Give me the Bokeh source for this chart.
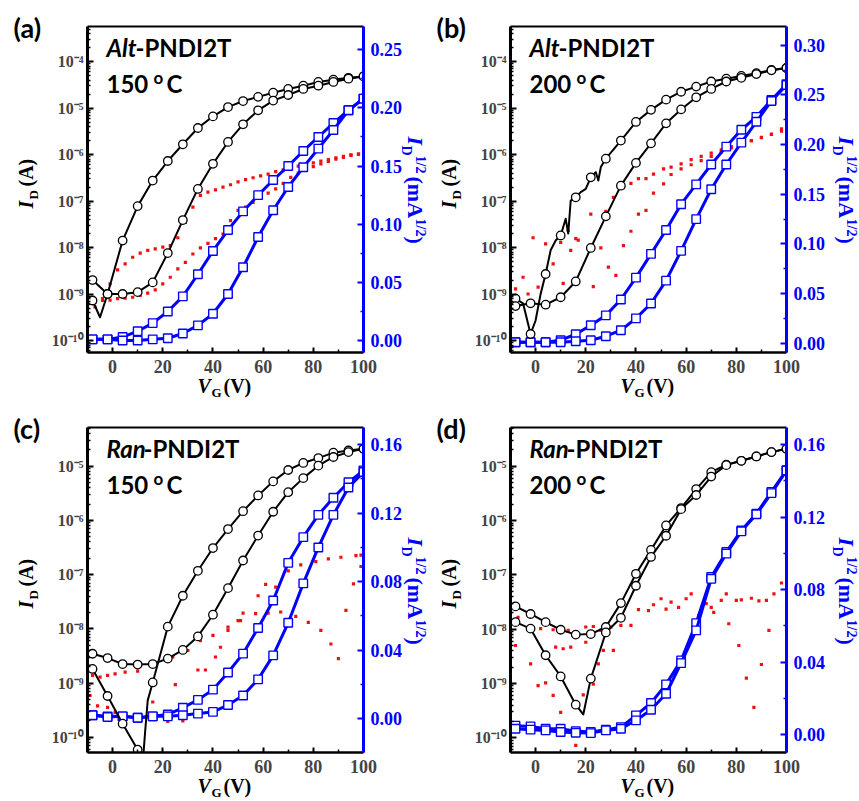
import numpy as np
from bokeh.plotting import figure
from bokeh.core.properties import value
from bokeh.models import (Range1d, LinearAxis, FixedTicker, CustomJSTickFormatter,
                          NumeralTickFormatter, ColumnDataSource, CDSView,
                          IndexFilter, LinearScale)
from bokeh.layouts import column, row
from bokeh.embed import file_html
from bokeh.resources import INLINE

# ------------------------------------------------------------------ data
MARK_VG = [-8, -2, 4, 10, 16, 22, 28, 34, 40, 46, 52, 58, 64, 70, 76, 82, 88, 94, 100]
SQ_VG = [-10, -8, -2, 4, 10, 16, 22, 28, 34, 40, 46, 52, 58, 64, 70, 76, 82, 88, 94, 100]
RED_VG3 = [-10, -7, -4, -1, 2, 5, 8, 11, 14, 17, 20, 23, 26, 29, 32, 35, 38, 41, 44, 47,
           50, 53, 56, 59, 62, 65, 68, 71, 74, 77, 80, 83, 86, 89, 92, 95, 98]

# ---- (a) Alt-PNDI2T 150 C   (log10 of I_D in A)
a_id1_vg = [-10, -8, -2, 4, 10, 16, 22, 28, 34, 40, 46, 52, 58, 64, 70, 76, 82, 88, 94, 100]
a_id1_log = [-8.68, -8.70, -9.00, -7.85, -7.11, -6.56, -6.14, -5.78, -5.43, -5.18, -4.98,
             -4.85, -4.76, -4.67, -4.59, -4.52, -4.44, -4.39, -4.35, -4.32]
a_id2_vg = [-10, -8, -5, -2, 4, 10, 16, 22, 28, 34, 40, 46, 52, 58, 64, 70, 76, 82, 88, 94, 100]
a_id2_log = [-9.18, -9.14, -9.50, -9.00, -9.00, -8.96, -8.75, -8.12, -7.41, -6.74, -6.20,
             -5.73, -5.35, -5.05, -4.84, -4.72, -4.59, -4.52, -4.44, -4.37, -4.32]
a_sq1 = [0.001, 0.001, 0.001, 0.003, 0.008, 0.015, 0.025, 0.038, 0.057, 0.077, 0.095,
         0.111, 0.125, 0.138, 0.150, 0.163, 0.175, 0.187, 0.198, 0.208]
a_sq2 = [0.001, 0.001, 0.001, 0.000, 0.000, 0.001, 0.002, 0.006, 0.013, 0.023, 0.040,
         0.063, 0.089, 0.112, 0.132, 0.149, 0.165, 0.181, 0.198, 0.208]
a_red1_vg = RED_VG3
a_red1_log = [-9.43, -9.28, -9.10, -8.78, -8.48, -8.35, -8.21, -8.12, -8.06, -8.03, -7.99,
              -7.96, -7.79, -7.46, -7.13, -6.88, -6.81, -6.76, -6.70, -6.65, -6.59, -6.54,
              -6.50, -6.46, -6.42, -6.37, -6.33, -6.29, -6.25, -6.22, -6.18, -6.14, -6.11,
              -6.07, -6.04, -6.01, -5.99]
a_red2_vg = RED_VG3
a_red2_log = [-9.35, -9.18, -9.14, -9.13, -9.10, -9.09, -9.07, -9.03, -8.98, -8.91, -8.78,
              -8.64, -8.46, -8.32, -8.14, -8.01, -7.91, -7.81, -7.71, -7.42, -7.20, -7.13,
              -7.03, -6.92, -6.83, -6.74, -6.62, -6.49, -6.40, -6.33, -6.26, -6.20, -6.15,
              -6.10, -6.06, -6.02, -5.99]

# ---- (b) Alt-PNDI2T 200 C
b_id1_vg = [-10, -8, -5, -2, 0, 2, 4, 6, 8, 10, 12, 13, 14, 16, 18, 20, 22, 24, 25, 26, 28,
            34, 40, 46, 52, 58, 64, 70, 76, 82, 88, 94, 100]
b_id1_log = [-9.10, -9.10, -9.20, -9.86, -9.57, -9.00, -8.57, -8.06, -7.85, -7.74, -7.38,
             -7.70, -6.99, -6.92, -6.81, -6.74, -6.49, -6.38, -6.56, -6.27, -6.09, -5.70,
             -5.30, -5.04, -4.82, -4.65, -4.54, -4.43, -4.37, -4.31, -4.25, -4.18, -4.14]
b_id2_vg = [-10, -8, -2, 4, 10, 16, 22, 28, 34, 40, 46, 52, 58, 64, 70, 76, 82, 88, 94, 100]
b_id2_log = [-9.30, -9.26, -9.20, -9.23, -9.07, -8.73, -8.01, -7.33, -6.67, -6.18, -5.76,
             -5.33, -5.03, -4.77, -4.59, -4.43, -4.35, -4.27, -4.19, -4.14]
b_sq1 = [0.001, 0.001, 0.001, 0.001, 0.003, 0.009, 0.018, 0.028, 0.044, 0.066, 0.090,
         0.114, 0.140, 0.160, 0.180, 0.198, 0.215, 0.228, 0.245, 0.261]
b_sq2 = [0.001, 0.001, 0.001, 0.001, 0.001, 0.002, 0.003, 0.007, 0.013, 0.025, 0.040,
         0.063, 0.093, 0.125, 0.155, 0.180, 0.202, 0.223, 0.244, 0.260]
b_red1_vg = [-8, -5, -1, 4, 10, 13, 17, 22, 28, 31, 35, 38, 41, 44, 47, 51, 54, 58, 62, 66,
             70, 74, 78, 82, 86, 90, 94, 98]
b_red1_log = [-8.89, -8.64, -7.79, -7.92, -7.89, -7.63, -7.84, -7.28, -7.22, -6.92, -6.70,
              -6.62, -6.52, -6.52, -6.42, -6.31, -6.27, -6.20, -6.11, -6.04, -5.97, -5.90,
              -5.83, -5.77, -5.70, -5.64, -5.57, -5.50]
b_red2_vg = [-9, -3, 1, 7, 11, 14, 16, 23, 26, 29, 32, 35, 38, 41, 44, 47, 51, 54, 58, 62,
             66, 70, 74, 78, 82, 86, 90, 94, 98]
b_red2_log = [-9.07, -9.00, -8.85, -8.35, -8.77, -8.06, -7.81, -8.84, -8.01, -8.42, -8.60,
              -7.96, -7.65, -7.28, -7.20, -6.83, -6.63, -6.43, -6.31, -6.22, -6.13, -6.04,
              -5.95, -5.86, -5.78, -5.70, -5.63, -5.56, -5.45]

# ---- (c) Ran-PNDI2T 150 C
c_id1_vg = [-10, -8, -2, 4, 10, 12, 13, 14, 16, 22, 28, 34, 40, 46, 52, 58, 64, 70, 76, 82,
            88, 94, 100]
c_id1_log = [-8.65, -8.74, -9.24, -9.75, -10.23, -10.49, -9.88, -9.32, -8.99, -7.96, -7.39,
             -6.93, -6.51, -6.16, -5.83, -5.54, -5.28, -5.07, -4.94, -4.85, -4.75, -4.71,
             -4.68]
c_id2_vg = [-10, -8, -2, 4, 10, 16, 22, 28, 34, 40, 46, 52, 58, 64, 70, 76, 82, 88, 94, 100]
c_id2_log = [-8.46, -8.46, -8.54, -8.65, -8.66, -8.65, -8.55, -8.39, -8.14, -7.74, -7.25,
             -6.74, -6.28, -5.84, -5.48, -5.22, -4.99, -4.83, -4.74, -4.68]
c_sq1 = [0.002, 0.002, 0.0014, 0.0014, 0.0006, 0.0014, 0.0025, 0.0064, 0.011, 0.017, 0.027,
         0.038, 0.053, 0.069, 0.091, 0.106, 0.119, 0.129, 0.138, 0.145]
c_sq2 = [0.002, 0.002, 0.001, 0.0014, 0.0006, 0.0014, 0.0014, 0.002, 0.003, 0.004, 0.008,
         0.0136, 0.023, 0.037, 0.056, 0.079, 0.100, 0.119, 0.135, 0.144]
c_red1_vg = [-8, -5, -2, 1, 5, 10, 16, 24, 30, 35, 40, 46, 51, 57, 62, 67, 73, 78, 83, 87,
             90, 93, 96, 99]
c_red1_log = [-8.86, -8.89, -8.86, -8.83, -8.80, -8.78, -8.68, -8.52, -8.40, -8.22, -8.12,
              -7.97, -7.85, -7.72, -7.71, -7.69, -7.77, -7.88, -8.03, -8.28, -8.55, -7.66,
              -7.17, -6.85]
c_red2_vg = [-9, -6, -2, 1, 16, 22, 25, 28, 34, 37, 41, 43, 46, 50, 52, 58, 61, 65, 70, 75,
             81, 86, 91, 97, 99]
c_red2_log = [-9.23, -9.42, -9.45, -9.54, -9.35, -9.71, -9.03, -9.70, -8.76, -8.76, -8.52,
              -8.34, -8.03, -7.85, -7.71, -7.39, -7.18, -7.23, -6.93, -6.82, -6.76, -6.71,
              -6.68, -6.65, -6.64]

# ---- (d) Ran-PNDI2T 200 C
d_id1_vg = [-10, -8, -2, 4, 10, 16, 22, 28, 34, 40, 46, 52, 58, 64, 70, 76, 82, 88, 94, 100]
d_id1_log = [-7.55, -7.58, -7.72, -7.87, -8.01, -8.10, -8.09, -7.96, -7.52, -6.98, -6.54,
             -6.09, -5.77, -5.42, -5.11, -4.97, -4.90, -4.82, -4.74, -4.68]
d_id2_vg = [-10, -8, -2, 4, 10, 16, 19, 22, 28, 34, 40, 46, 52, 58, 64, 70, 76, 82, 88, 94, 100]
d_id2_log = [-7.81, -7.87, -7.99, -8.48, -8.87, -9.39, -9.57, -8.91, -8.06, -7.79, -7.20,
             -6.67, -6.28, -5.79, -5.53, -5.19, -4.98, -4.90, -4.82, -4.74, -4.68]
d_sq1 = [0.005, 0.005, 0.0046, 0.0033, 0.0033, 0.002, 0.0015, 0.0028, 0.0042, 0.0107,
         0.0175, 0.0278, 0.041, 0.0616, 0.087, 0.1008, 0.1127, 0.122, 0.134, 0.146]
d_sq2 = [0.0033, 0.0033, 0.0028, 0.0024, 0.0015, 0.0011, 0.0009, 0.0024, 0.0033, 0.0079,
         0.0138, 0.0226, 0.0395, 0.0576, 0.086, 0.0999, 0.1122, 0.1216, 0.1333, 0.1458]
d_red1_vg = [-7, -2, 2, 7, 13, 20, 23, 26, 30, 34, 38, 41, 45, 47, 50, 52, 54, 57, 60, 62,
             68, 70, 74, 76, 80, 82, 86, 89, 92, 95, 98]
d_red1_log = [-7.78, -7.96, -7.99, -8.01, -8.02, -7.96, -7.95, -8.02, -7.96, -7.93, -7.93,
              -7.64, -7.66, -7.55, -7.44, -7.63, -7.50, -7.60, -7.44, -7.35, -7.53, -7.60,
              -7.47, -7.35, -7.47, -7.46, -7.43, -7.48, -7.47, -7.35, -7.15]
d_red2_vg = [-8, -2, 1, 4, 7, 8, 10, 11, 14, 16, 19, 20, 23, 25, 27, 31, 65, 71, 77, 81,
             84, 87, 90, 93]
d_red2_log = [-8.30, -8.64, -9.04, -8.99, -9.22, -8.33, -9.53, -8.36, -8.33, -10.14, -9.21,
              -8.24, -9.01, -8.64, -8.39, -8.39, -7.75, -7.69, -7.90, -8.30, -8.90, -9.44,
              -8.65, -8.02]

# axis ticks
LOG_TICKS_AB = [-10, -9, -8, -7, -6, -5, -4]
LOG_TICKS_CD = [-10, -9, -8, -7, -6, -5]
SQ_TICKS_A = [0.0, 0.05, 0.10, 0.15, 0.20, 0.25]
SQ_TICKS_B = [0.0, 0.05, 0.10, 0.15, 0.20, 0.25, 0.30]
SQ_TICKS_CD = [0.0, 0.04, 0.08, 0.12, 0.16]
VG_TICKS = [0, 20, 40, 60, 80, 100]

BLUE = "#0000ff"
RED = "#ee1111"
SERIF = "Liberation Serif"
SANS = "Lato"

LOG_FMT = CustomJSTickFormatter(code="""
const e = Math.round(Math.log10(tick));
const sup = {'-':'\u207b','0':'\u2070','1':'\u00b9','2':'\u00b2','3':'\u00b3','4':'\u2074',
             '5':'\u2075','6':'\u2076','7':'\u2077','8':'\u2078','9':'\u2079'};
return '10' + String(e).split('').map(c => sup[c]).join('');
""")


def mark_idx(vg):
    s = set(MARK_VG)
    return [i for i, v in enumerate(vg) if v in s]


def make_panel(P):
    W, H = P["w"], P["h"]
    bl, br, bt, bb = P["border"]
    FW, FH = W - bl - br, H - bt - bb
    p = figure(width=W, height=H, x_range=Range1d(-10, 100),
               y_range=Range1d(10 ** P["log_lo"], 10 ** P["log_hi"]), y_axis_type="log",
               output_backend="svg", toolbar_location=None,
               min_border_left=bl, min_border_right=br, min_border_top=bt, min_border_bottom=bb)
    p.outline_line_color = None
    p.xgrid.visible = False
    p.ygrid.visible = False
    p.background_fill_color = "white"
    p.border_fill_color = "white"
    p.extra_y_ranges = {"sq": Range1d(P["sq_lo"], P["sq_hi"])}
    p.extra_y_scales = {"sq": LinearScale()}

    # left log axis
    ly = p.yaxis[0]
    ly.ticker = FixedTicker(ticks=[10.0 ** k for k in P["log_ticks"]],
                            minor_ticks=[m * 10.0 ** k for k in range(-11, -2) for m in range(2, 10)])
    ly.formatter = LOG_FMT
    ly.axis_line_width = 3
    ly.major_tick_in, ly.major_tick_out = 6, 0
    ly.minor_tick_in, ly.minor_tick_out = 3, 0
    ly.major_tick_line_width = 2
    ly.minor_tick_line_width = 1.5
    ly.major_label_text_font = SERIF
    ly.major_label_text_font_style = "bold"
    ly.major_label_text_font_size = "16px"
    ly.major_label_standoff = 4

    # bottom axis
    bx = p.xaxis[0]
    bx.ticker = FixedTicker(ticks=VG_TICKS, minor_ticks=[-10, 10, 30, 50, 70, 90])
    bx.axis_line_width = 2.5
    bx.major_tick_in, bx.major_tick_out = 5, 0
    bx.minor_tick_in, bx.minor_tick_out = 3, 0
    bx.major_tick_line_width = 2
    bx.minor_tick_line_width = 1.5
    bx.major_label_text_font = SERIF
    bx.major_label_text_font_style = "bold"
    bx.major_label_text_font_size = "18px"
    bx.major_label_standoff = 7

    # right linear axis
    sq_t = P["sq_ticks"]
    step = sq_t[1] - sq_t[0]
    ra = LinearAxis(y_range_name="sq",
                    ticker=FixedTicker(ticks=sq_t, minor_ticks=[t + step / 2 for t in sq_t]),
                    formatter=NumeralTickFormatter(format="0.00"))
    ra.axis_line_color = BLUE
    ra.axis_line_width = 3
    ra.major_tick_line_color = BLUE
    ra.minor_tick_line_color = BLUE
    ra.major_tick_in, ra.major_tick_out = 6, 0
    ra.minor_tick_in, ra.minor_tick_out = 3, 0
    ra.major_tick_line_width = 2
    ra.minor_tick_line_width = 1.5
    ra.major_label_text_color = BLUE
    ra.major_label_text_font = SERIF
    ra.major_label_text_font_style = "bold"
    ra.major_label_text_font_size = "18px"
    ra.major_label_standoff = 7
    p.add_layout(ra, "right")

    # top frame line
    ta = LinearAxis(ticker=FixedTicker(ticks=[]), axis_line_width=2,
                    major_label_text_font_size="0px", major_tick_line_color=None,
                    minor_tick_line_color=None, major_tick_out=0, major_tick_in=0,
                    major_label_standoff=0)
    p.add_layout(ta, "above")

    # red dotted data
    for vg, lg in P["red"]:
        p.scatter(vg, 10.0 ** np.array(lg), marker="square", size=3.2,
                  fill_color=RED, line_color=None)

    # blue sqrt curves
    for sq in P["sq"]:
        src = ColumnDataSource(dict(x=SQ_VG, y=sq))
        p.line("x", "y", source=src, line_color=BLUE, line_width=3, y_range_name="sq",
               line_join="round")
        p.scatter("x", "y", source=src, view=CDSView(filter=IndexFilter(mark_idx(SQ_VG))),
                  marker="square", size=8.5, fill_color="white", line_color=BLUE,
                  line_width=1.4, y_range_name="sq")

    # black log curves
    for vg, lg in P["id"]:
        src = ColumnDataSource(dict(x=vg, y=10.0 ** np.array(lg)))
        p.line("x", "y", source=src, line_color="black", line_width=2, line_join="round")
        p.scatter("x", "y", source=src, view=CDSView(filter=IndexFilter(mark_idx(vg))),
                  marker="circle", size=8.5, fill_color="white", line_color="black",
                  line_width=1.3)

    # text placement: (X, Y) in px from the frame's bottom-left corner
    kx = FW / 110.0
    ky = FH / (P["log_hi"] - P["log_lo"])

    def lab(text, X, Y, size, style="bold", font=SERIF, color="black", angle=0.0):
        sh = 0.36 * size
        if angle == 0:
            Y += sh
        elif angle > 0:
            X -= sh
        else:
            X += sh
        xd = -10 + X / kx
        yd = 10 ** (P["log_lo"] + Y / ky)
        p.text(x=[xd], y=[yd], text=[text], text_font=value(font),
               text_font_style=style, text_font_size=f"{size}px", text_color=color,
               angle=angle, text_align="left", text_baseline="middle",
               level="overlay")

    # sample name inside the frame
    lab(P["name"], 19, FH - 30, 24, style="bold italic", font=SANS)
    lab("-PNDI2T", P["suffix_dx"], FH - 30, 24, font=SANS)
    lab(P["temp"], 19, FH - 66, 24, font=SANS)
    lab("o", 66, FH - 57, 17, font=SANS)
    lab("C", 79, FH - 66, 24, font=SANS)

    # panel letter
    lab(P["letter"], -74, FH - 11, 27, font=SANS)

    # left axis title  I_D (A)
    up = np.pi / 2
    lab("I", -54, 144, 20, style="bold italic", angle=up)
    lab("D", -49, 153, 13, angle=up)
    lab("(A)", -54, 166, 20, angle=up)

    # bottom axis title  V_G (V)
    lab("V", 110, -41, 20, style="bold italic")
    lab("G", 124, -45, 13)
    lab("(V)", 136, -41, 20)

    # right axis title  I_D^1/2 (mA^1/2)
    dn = -np.pi / 2
    xr = FW + P["rt_dx"]
    lab("I", xr, FH - 110, 22, style="bold italic", color=BLUE, angle=dn)
    lab("D", xr - 6, FH - 119, 14, color=BLUE, angle=dn)
    lab("1/2", xr + 8, FH - 129, 14, color=BLUE, angle=dn)
    lab("(mA", xr, FH - 150, 22, color=BLUE, angle=dn)
    lab("1/2", xr + 8, FH - 192, 14, color=BLUE, angle=dn)
    lab(")", xr, FH - 210, 22, color=BLUE, angle=dn)
    return p


panels = [
    dict(letter="(a)", name="Alt", suffix_dx=48, temp="150", w=430, h=400, border=(87, 67, 26, 48),
         rt_dx=44, log_lo=-10.258, log_hi=-3.247, log_ticks=LOG_TICKS_AB,
         sq_lo=-0.0103, sq_hi=0.270, sq_ticks=SQ_TICKS_A,
         id=[(a_id1_vg, a_id1_log), (a_id2_vg, a_id2_log)], sq=[a_sq1, a_sq2],
         red=[(a_red1_vg, a_red1_log), (a_red2_vg, a_red2_log)]),
    dict(letter="(b)", name="Alt", suffix_dx=48, temp="200", w=429, h=400, border=(80, 73, 26, 48),
         rt_dx=52, log_lo=-10.258, log_hi=-3.247, log_ticks=LOG_TICKS_AB,
         sq_lo=-0.0094, sq_hi=0.319, sq_ticks=SQ_TICKS_B,
         id=[(b_id1_vg, b_id1_log), (b_id2_vg, b_id2_log)], sq=[b_sq1, b_sq2],
         red=[(b_red1_vg, b_red1_log), (b_red2_vg, b_red2_log)]),
    dict(letter="(c)", name="Ran", suffix_dx=56, temp="150", w=430, h=401, border=(87, 67, 27, 49),
         rt_dx=44, log_lo=-10.282, log_hi=-4.286, log_ticks=LOG_TICKS_CD,
         sq_lo=-0.0197, sq_hi=0.170, sq_ticks=SQ_TICKS_CD,
         id=[(c_id1_vg, c_id1_log), (c_id2_vg, c_id2_log)], sq=[c_sq1, c_sq2],
         red=[(c_red1_vg, c_red1_log), (c_red2_vg, c_red2_log)]),
    dict(letter="(d)", name="Ran", suffix_dx=56, temp="200", w=429, h=401, border=(80, 73, 27, 49),
         rt_dx=52, log_lo=-10.27, log_hi=-4.287, log_ticks=LOG_TICKS_CD,
         sq_lo=-0.0098, sq_hi=0.1695, sq_ticks=SQ_TICKS_CD,
         id=[(d_id1_vg, d_id1_log), (d_id2_vg, d_id2_log)], sq=[d_sq1, d_sq2],
         red=[(d_red1_vg, d_red1_log), (d_red2_vg, d_red2_log)]),
]

figs = [make_panel(P) for P in panels]
layout = column(row(figs[0], figs[1]), row(figs[2], figs[3]))
open("out.html", "w").write(file_html(layout, INLINE))
